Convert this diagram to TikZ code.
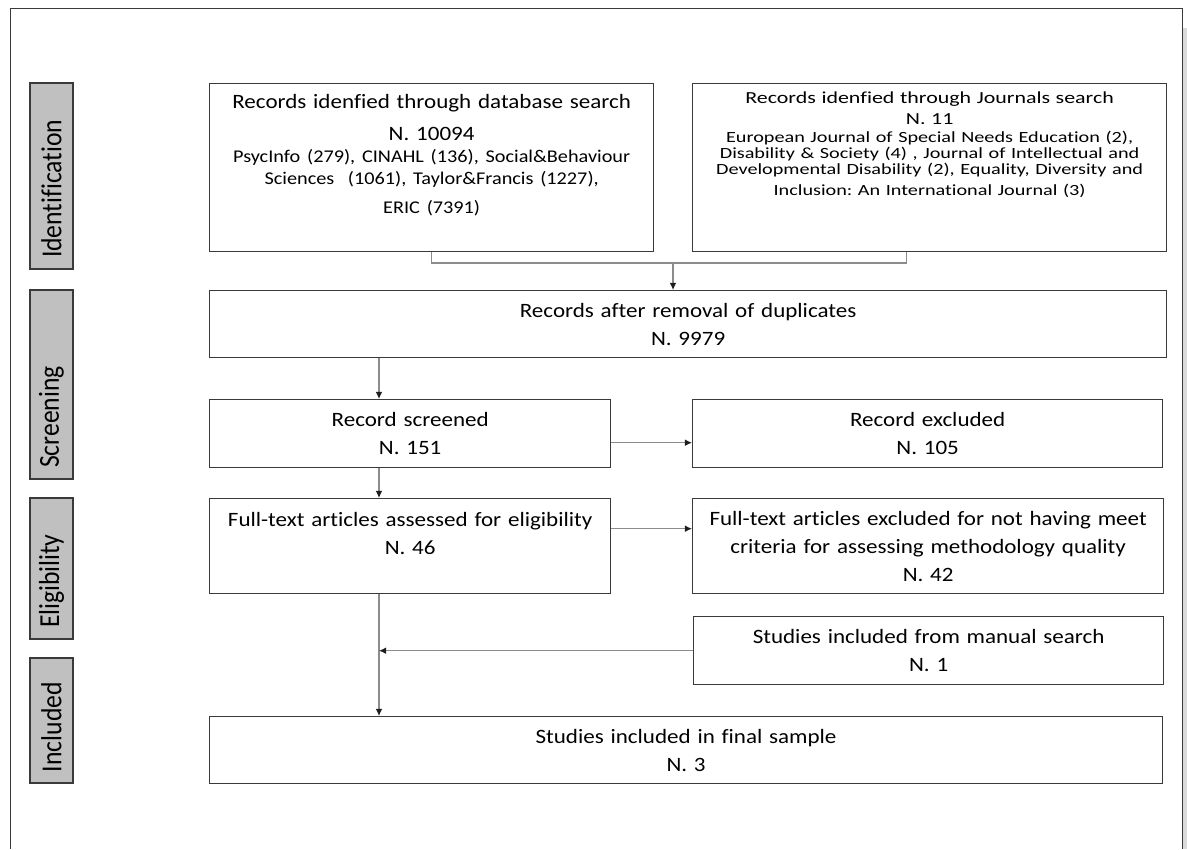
\documentclass[tikz,border=0pt]{standalone}
\usepackage{fontspec}
\setmainfont{Carlito}[FakeStretch=1.13, Ligatures=NoCommon]
\newfontfamily\phasefamily{Carlito}[FakeStretch=0.885, Ligatures=NoCommon]
\newfontfamily\journfamily{Carlito}[FakeStretch=1.3, Ligatures=NoCommon]
\usetikzlibrary{positioning, arrows.meta, calc}
\frenchspacing

\definecolor{boxline}{HTML}{3A3A3A}
\definecolor{linkgray}{HTML}{8C8C8C}
\definecolor{phasefill}{HTML}{C0C0C0}
\definecolor{tipgray}{HTML}{1E1E1E}
\definecolor{pageshade}{HTML}{DADADA}

\newcommand{\boxsize}{\fontsize{11.6}{16}\selectfont}
\newcommand{\journsize}{\journfamily\fontsize{9.6}{11.7}\selectfont}
\newcommand{\subsize}{\fontsize{10.2}{12.3}\selectfont}
\newcommand{\subjsize}{\fontsize{8.85}{9.2}\selectfont\lineskiplimit=-10pt}
\newcommand{\phasesize}{\phasefamily\fontsize{16.5}{18}\selectfont}

\begin{document}
\begin{tikzpicture}[
    x=0.02cm, y=-0.02cm, % one unit = one pixel of the page
    % Styles
    box/.style={
        rectangle,
        draw=boxline,
        line width=0.8pt,
        anchor=north west,
        align=center,
        inner sep=0pt,
        font=\boxsize
    },
    phase/.style={ % grey stage label on the left
        rectangle,
        draw=boxline,
        fill=phasefill,
        line width=0.8pt,
        rotate=90,
        minimum height=0.86cm,
        inner xsep=0.22cm,
        inner ysep=0pt,
        align=left,
        font=\phasesize
    },
    link/.style={
        draw=linkgray,
        line width=0.7pt
    },
    arrow/.style={
        link,
        -{Latex[length=4pt, width=3.8pt, color=tipgray]}
    }
]
    \useasboundingbox (0,0) rectangle (1187,849);

    % Page frame
    \fill[pageshade] (1183,28) rectangle (1187,849);
    \draw[boxline, line width=0.5pt] (10,849) |- (1182,8) -- (1182,849);

    % Stages
    \node[phase, text width=3.28cm] (ident) at (51.5,176) {Identification};
    \node[phase, text width=3.34cm] (screen) at (51.5,384.5) {Screening};
    \node[phase, text width=2.38cm] (elig) at (51.5,568.5) {Eligibility};
    \node[phase, text width=2.06cm] (incl) at (51.5,720.5) {Included};

    % Identification
    \node[box, text width=8.88cm, text height=0.5cm, text depth=2.86cm] (db) at (209,83)
        {Records idenfied through database search\\[2.3pt] N. 10094\par
         \subsize PsycInfo (279), CINAHL (136), Social\&Behaviour\\
         Sciences \ (1061), Taylor\&Francis (1227),\\[1pt] ERIC (7391)};
    \node[box, font=\journsize, text width=9.48cm, text height=0.40cm, text depth=2.96cm] (journ) at (692,83)
        {Records idenfied through Journals search\\ N. 11\par\vspace{1pt}
         \subjsize European Journal of Special Needs Education (2),\\
         Disability \& Society (4) , Journal of Intellectual and\\
         Developmental Disability (2), Equality, Diversity and\\
         Inclusion: An International Journal (3)};

    % Screening
    \node[box, text width=19.14cm, minimum height=1.34cm] (dup) at (209,290)
        {Records after removal of duplicates\\ N. 9979};
    \node[box, text width=8.02cm, minimum height=1.36cm] (screened) at (209,399)
        {Record screened\\ N. 151};
    \node[box, text width=9.40cm, minimum height=1.36cm] (excl) at (692,399)
        {Record excluded\\ N. 105};

    % Eligibility
    \node[box, text width=8.02cm, text height=0.56cm, text depth=1.34cm] (assessed) at (209,498)
        {Full-text articles assessed for eligibility\\ N. 46};
    \node[box, text width=9.42cm, minimum height=1.90cm] (ftexcl) at (692,498)
        {Full-text articles excluded for not having meet\\ criteria for assessing methodology quality\\ N. 42};
    \node[box, text width=9.40cm, minimum height=1.36cm] (manual) at (693,616)
        {Studies included from manual search\\ N. 1};

    % Included
    \node[box, text width=19.06cm, minimum height=1.34cm] (final) at (209,716)
        {Studies included in final sample\\ N. 3};

    % Connections
    \coordinate (merge) at (673,263);
    \coordinate (trunk) at (379,0);
    \draw[link] (db.south) |- (merge);
    \draw[link] ([xshift=-0.46cm]journ.south) |- (merge);
    \draw[arrow] (merge) -- (merge |- dup.north);
    \draw[arrow] (trunk |- dup.south) -- (trunk |- screened.north);
    \draw[arrow] (trunk |- screened.south) -- (trunk |- assessed.north);
    \draw[arrow] (trunk |- assessed.south) -- (trunk |- final.north);
    \draw[arrow] ([yshift=-0.18cm]screened.east) -- ([yshift=-0.18cm]excl.west);
    \draw[arrow] ([yshift=0.35cm]assessed.east) -- ([yshift=0.35cm]ftexcl.west);
    \draw[arrow] (manual.west) -- (trunk |- manual.west);
\end{tikzpicture}
\end{document}
